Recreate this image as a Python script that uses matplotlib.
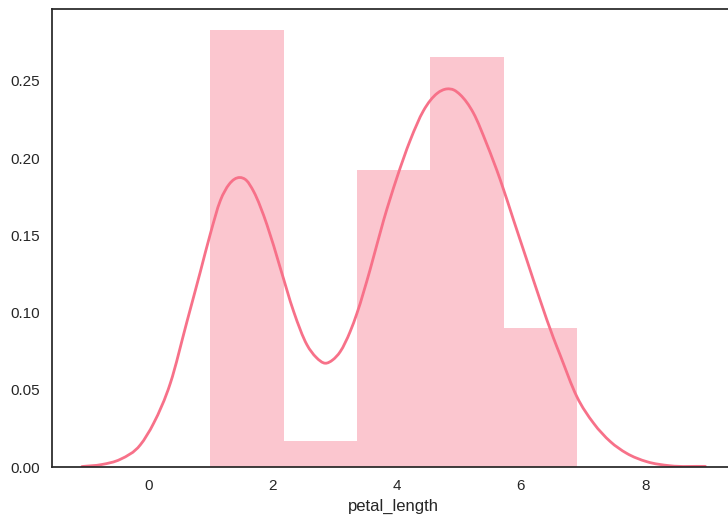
import numpy as np
import matplotlib
matplotlib.use("Agg")
import matplotlib.pyplot as plt
from matplotlib.path import Path
from matplotlib.patches import PathPatch

# Histogram (density)
bin_edges = [1.0, 2.18, 3.36, 4.54, 5.72, 6.9]
bin_heights = [0.2825, 0.0169, 0.1921, 0.2655, 0.0904]

# KDE curve points
kde_x = [-1.07, -0.75, -0.45, -0.13, 0.085, 0.354, 0.62, 0.837, 0.998, 1.159,
         1.30, 1.47, 1.58, 1.695, 1.91, 2.125, 2.34, 2.554, 2.70, 2.85, 2.97,
         3.09, 3.25, 3.36, 3.57, 3.79, 4.00, 4.22, 4.43, 4.65, 4.81, 4.92,
         5.02, 5.236, 5.45, 5.666, 5.88, 6.095, 6.31, 6.52, 6.63, 6.90, 7.17,
         7.44, 7.70, 8.03, 8.40, 8.97]
kde_y = [0.0005, 0.0018, 0.0052, 0.0145, 0.0285, 0.0544, 0.0940, 0.1265, 0.1510, 0.1725,
         0.1830, 0.1874, 0.1855, 0.1784, 0.1568, 0.1288, 0.1007, 0.0792, 0.0712, 0.0673, 0.0695,
         0.0748, 0.0878, 0.0997, 0.1277, 0.1600, 0.1870, 0.2118, 0.2306, 0.2418, 0.2447, 0.2440,
         0.2410, 0.2290, 0.2090, 0.1860, 0.1600, 0.1340, 0.1080, 0.0840, 0.0727, 0.0457, 0.0285,
         0.0166, 0.0091, 0.0036, 0.0010, 0.0006]

x_ticks = [0, 2, 4, 6, 8]
y_ticks = [0.00, 0.05, 0.10, 0.15, 0.20, 0.25]
x_label = "petal_length"

color = "#f77189"
text_color = "#262626"

plt.rcParams["font.family"] = ["Liberation Sans", "DejaVu Sans"]

W, H = 728, 515
fig = plt.figure(figsize=(W / 100, H / 100), dpi=100)
left, right, top, bottom = 51.5, 735.8, 8.5, 467.3
ax = fig.add_axes([left / W, 1 - bottom / H, (right - left) / W, (bottom - top) / H])

widths = np.diff(bin_edges)
ax.bar(bin_edges[:-1], bin_heights, width=widths, align="edge",
       color=color, alpha=0.4, linewidth=0)

# Smooth rendering of the read KDE points (cubic Hermite drawn as Bezier)
x = np.asarray(kde_x, float)
y = np.asarray(kde_y, float)
h = np.diff(x)
d = np.diff(y) / h
m = np.empty_like(y)
m[0], m[-1] = d[0], d[-1]
for i in range(1, len(x) - 1):
    m[i] = (d[i - 1] * h[i] + d[i] * h[i - 1]) / (h[i - 1] + h[i])
verts = [(x[0], y[0])]
codes = [Path.MOVETO]
for i in range(len(x) - 1):
    verts += [(x[i] + h[i] / 3, y[i] + m[i] * h[i] / 3),
              (x[i + 1] - h[i] / 3, y[i + 1] - m[i + 1] * h[i] / 3),
              (x[i + 1], y[i + 1])]
    codes += [Path.CURVE4] * 3
ax.add_patch(PathPatch(Path(verts, codes), facecolor="none",
                       edgecolor=color, linewidth=2.0, capstyle="round"))

ax.set_xlim(-1.56, 9.46)
ax.set_ylim(0, 0.2967)
ax.set_xticks(x_ticks)
ax.set_yticks(y_ticks)
ax.set_yticklabels([f"{v:.2f}" for v in y_ticks])
ax.tick_params(axis="both", length=0, labelsize=11, labelcolor=text_color, pad=8.5)
ax.set_xlabel(x_label, fontsize=12, color=text_color, labelpad=4)

for s in ax.spines.values():
    s.set_color(text_color)
    s.set_linewidth(1.25)

fig.savefig("out.png", dpi=100)
